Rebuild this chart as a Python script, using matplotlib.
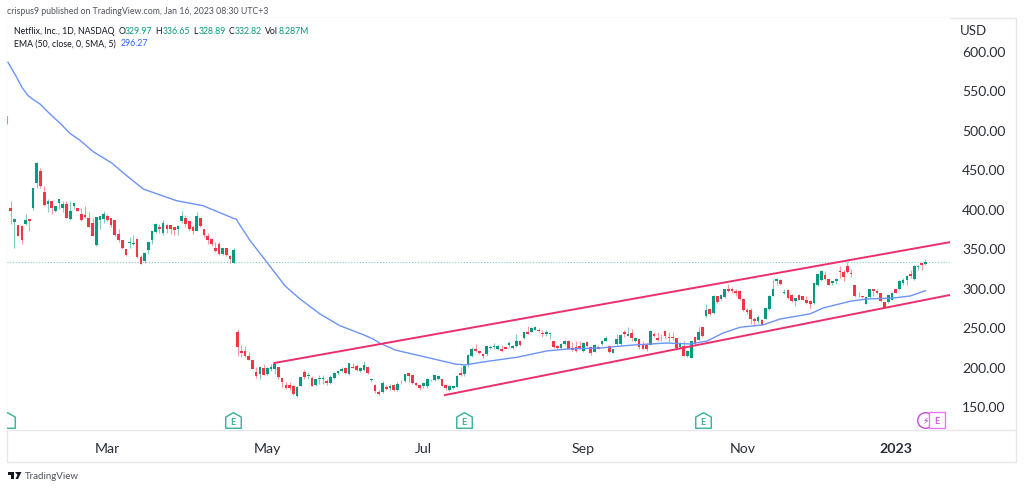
import matplotlib
matplotlib.use("Agg")
import matplotlib.pyplot as plt
from matplotlib.path import Path
from matplotlib.patches import Rectangle, Polygon

plt.rcParams['font.family'] = ['Lato', 'DejaVu Sans']

opens = [518,401,383,379,378,381,387,401,433,448,421,406,410,397,408,401,406,387,403,401,394,392,388,382,354,386,387,391,388,386,368,361,349,357,355,362,339,334,348,360,371,377,370,380,380,377,374,384,389,384,377,372,389,374,365,362,350,356,343,351,340,332,
 244,220,220,213,208,193,191,198,191,197,197,200,186,177,177,176,163,176,193,188,186,177,185,185,182,179,186,192,195,198,191,199,201,194,196,200,183,177,168,168,174,173,177,170,180,182,192,189,179,177,175,175,184,183,184,184,177,170,173,174,192,191,203,214,
 223,220,216,216,224,225,222,222,225,227,224,226,232,236,244,244,247,247,243,241,241.5,232,226,224,229,233,224,225,226,220,231,225,219,225,229,233,226,217,229,229,244,239,243,233,235,227,228,228,241,236,237,245,238,238,236,225,226,213,211,237,234,250,
 264,273,268,289,286,288,298,298,296,296,286,272,272,260,258,259,261,273,289,308,310,294,297,291,283,291,289,284,283,281,303,310,316,311,306,309,321,320,327,319,303,289,289,280,288,298,296,293,282,282,285,298,298,306,310,318,311,326,332,329.97]
highs = [518,410,388,380,379,394,387,427,459,452,429,413,411,404,413,410,410,410,409,401,401,403,396,389,390,391,397,394,389,386,374,361,349,364,367,362,341,345,358,372,382,381,386,381,380,377,380,397,392,384,380,396,389,375,369,362,358,358,351,351,342,351,
 248,227,226,218,208,199,200,203,199,203,206,200,186,180,181,177,175,187,196,193,188,184,189,189,184,189,193,195,199,199,205,205,203,199,207,200,186,178,170,182,177,178,178,180,183,191,192,190,180,178,180,186,185,190,190,184,178,177,176,189,199,202,216,225,
 229,221,217,227,228,230,228,227,225,232,228,242,233,244,251,250,251,249,246,247,244,233,228,230,234,234,231,232,232,231,232,225,229,227,234,239,227,223,242,242,246,250,248,237,236,233,230,246,244,244,242,245,244,244,236,231,232,221,233,238,250,250,
 280,275,291,290,292,299,305,301,299,297,287,275,275,263,266,260,275,291,311,312,311,299,298,292,287,292,290,290,284,306,318,322,321,312,309,313,328,322,333,324,304,295,290,289,299,299,298,294,282,292,295,298,310,312,316,322,329,329,332,336.65]
lows = [507,381,351,365,356,379,372,399,426,427,404,396,394,396,400,396,388,386,400,397,385,389,377,365,353,375,382,385,377,365,358,349,340,350,354,338,330,332,343,355,369,369,367,370,368,367,367,382,377,372,368,372,377,364,355,353,345,342,342,340,332,332,
 213,212,212,208,197,186,185,189,189,195,191,185,174,172,170,164,162,176,185,185,175,175,178,178,177,178,185,191,193,191,189,198,195,193,195,191,180,167,164,167,171,171,169,169,178,181,181,178,175,170,173,173,182,182,183,175,171,169,172,174,188,188,200,212,
 218,216,211,214,222,222,221,219,222,225,222,225,226,235,241,244,246,244,237,239,235,224,222,223,228,222,220,218,222,218,225,215,218,222,228,232,217,217,228,227,237,239,233,231,222,222,220,227,237,233,233,235,231,234,222,222,213,212,211,228,234,237,
 263,265,267,281,285,287,295,294,290,285,271,267,254,252,256,253,260,272,289,303,304,292,286,282,277,284,284,279,275,280,302,309,310,303,303,305,313,309,319,314,288,288,287,280,287,290,292,282,274,281,284,293,297,304,304,313,310,322,322,328.89]
closes = [507,397,387,366,360,386,384,427,458,429,405,410,401,404,412,406,389,397,407,397,386,390,377,366,390,391,394,386,379,367,361,350,341,358,357,339,330,344,358,372,381,374,382,374,374,373,378,391,381,374,372,391,378,367,361,355,347,343,350,341,336,348,
 225,217,214,209,197,188,199,190,198,199,203,187,180,173,173,165,174,187,187,190,176,184,186,186,179,187,192,194,197,192,205,198,196,198,202,192,184,169,165,179,172,175,170,178,181,191,188,179,177,173,179,185,184,190,188,176,173,175,175,188,190,201,215,223,
 220,217,213,226,225,226,226,220,223,230,226,233,227,244,241,249,250,245,242,244,242,225,224,229,233,223,221,220,223,230,226,217,228,223,233,236,218,223,235,240,242,242,236,236,225,223,223,245,239,234,238,239,236,236,224,230,213,220,232,229,244,239,
 272,267,290,282,291,298,296,296,293,286,272,269,260,258,263,253,274,290,299,311,305,295,287,283,287,285,285,281,280,306,317,321,311,304,309,311,320,314,320,318,289,290,288,288,298,296,294,283,275,291,294,294,309,310,315,315,328,328,329,332.82]

sma_pos = [0.27,2.6,4,5.7,7.1,8.9,11.6,14.3,16.9,19.6,23.2,28.2,32.2,36.7,45.6,52.7,60.9,61.6,65.4,69.9,74.8,78.8,84.2,89.5,95.8,98.5,100.3,104.5,112.5,120.5,123.2,128,137.2,145.2,150.7,159.5,168.4,177.5,183.7,188.3,192.6,197.2,203.3,207.9,216,219.5,226.8,231.4,238.3,242.9,247]
sma_val = [585.7,566.7,554,543.4,538.3,532.8,520,508.4,495.7,487,472.4,458,442,425,410.3,404,388,387.1,359.6,332.3,302.3,285.8,266.8,252,240.6,235,229.7,221,212.3,203.4,202.2,206,212,220,222.4,223.7,227.5,230,228.8,232.6,242.7,250,253,260.4,267,274.4,283,285.8,287,289.6,296.27]

upper_pos = [71.9, 253.8]
upper_val = [204.7, 358]
lower_pos = [117.8, 253.6]
lower_val = [164.1, 290.9]
last_close = 332.82

price_ticks = [150,200,250,300,350,400,450,500,550,600]
month_pos = [27,70,112,155,198,239]
month_labels = ['Mar','May','Jul','Sep','Nov','2023']
earn_pos = [0.1,60.8,122.9,187.2]
div_pos = 246.9
next_earn_pos = 250

W,H = 1024,489
GREEN,RED = '#089981','#F23645'
TXT = '#131722'
fig = plt.figure(figsize=(W/100,H/100),dpi=100,facecolor='white')
ax = fig.add_axes([7/W,(H-431)/H,943/W,412/H])
ax.set_xlim(0.005,253.6)
ax.set_ylim(119.8,641.8)
for s in ax.spines.values(): s.set_visible(False)

n = list(range(len(opens)))
colors = [GREEN if c>=o else RED for o,c in zip(opens,closes)]
ax.vlines(n,lows,highs,colors=colors,lw=0.8,alpha=0.5,zorder=2)
bars = ax.bar(n,[max(abs(c-o),0.8) for o,c in zip(opens,closes)],bottom=[min(o,c) for o,c in zip(opens,closes)],
       width=0.72,color=colors,lw=0,zorder=3)
bars[0].set_alpha(0.3)
ax.axhline(last_close,color='#5cc4b4',lw=0.8,ls=(0,(1,1.6)),alpha=0.8,zorder=1)
ax.plot(sma_pos,sma_val,color='#6C93F7',lw=1,zorder=4)
ax.plot(upper_pos,upper_val,color='#EC2F6B',lw=1.4,zorder=5)
ax.plot(lower_pos,lower_val,color='#EC2F6B',lw=1.4,zorder=5)

ax.yaxis.tick_right()
ax.set_yticks(price_ticks)
ax.set_yticklabels([f'{v:.2f}' for v in price_ticks],fontsize=10,color='#2a2e39')
ax.tick_params(axis='y',length=0,pad=8.6)
ax.set_xticks(month_pos)
ax.set_xticklabels(month_labels,fontsize=10.2,color='#2a2e39')
ax.get_xticklabels()[-1].set_fontweight('bold')
ax.tick_params(axis='x',length=0,pad=8.5)

# earnings markers
house = Path([(-1,-1),(1,-1),(1,0.45),(0,1),(-1,0.45),(-1,-1)],closed=True)
ey = 132
ax.scatter(earn_pos,[ey]*len(earn_pos),marker=house,s=125,facecolor='white',edgecolor='#33b09a',lw=1,zorder=6)
for x in earn_pos[1:]:
    ax.text(x,ey-1,'E',ha='center',va='center',fontsize=6.5,fontweight='bold',color='#33b09a',zorder=7)
ax.scatter([next_earn_pos],[ey],marker='s',s=125,facecolor='white',edgecolor='#E879F0',lw=1,zorder=6)
ax.text(next_earn_pos,ey-0.5,'E',ha='center',va='center',fontsize=6.5,fontweight='bold',color='#D855E6',zorder=7)
ax.scatter([div_pos],[ey],marker='o',s=125,facecolor='white',edgecolor='#C44BD6',lw=1,zorder=5.5)
ax.text(div_pos,ey-0.5,'\u26A1',ha='center',va='center',fontsize=6.5,color='#A83BC0',zorder=5.6,family=['DejaVu Sans'])

# overlay in pixels
ov = fig.add_axes([0,0,1,1],zorder=-1)
ov.set_xlim(0,W); ov.set_ylim(H,0); ov.axis('off')
ov.add_patch(Rectangle((7,19),1009,444,fill=False,ec='#E6E8EE',lw=1))
ov.plot([7,1016],[431,431],color='#E6E8EE',lw=1)

def t(x,y,s,c=TXT,fs=6.3,**k):
    fig.text(x/W,1-y/H,s,color=c,fontsize=fs,va='center',**k)
t(7,11,'crispus9 published on TradingView.com, Jan 16, 2023 08:30 UTC+3','#50535e',6.3)
t(14,31,'Netflix, Inc., 1D, NASDAQ')
for x,s,c in [(118.5,'O',TXT),(125,'329.97',GREEN),(155.5,'H',TXT),(162.5,'336.65',GREEN),(193,'L',TXT),(198.5,'328.89',GREEN),
              (228.5,'C',TXT),(235,'332.82',GREEN),(265,'Vol',TXT),(278.5,'8.287M',GREEN)]:
    t(x,31,s,c)
t(14,44,'EMA (50, close, 0, SMA, 5)')
t(121,44,'296.27','#2962FF')
t(960,31,'USD','#2a2e39',9.5)

# TradingView logo
ov2 = fig.add_axes([0,0,1,1],zorder=5); ov2.set_xlim(0,W); ov2.set_ylim(H,0); ov2.axis('off'); ov2.patch.set_alpha(0)
ov2.add_patch(Polygon([(8,473),(14,473),(14,480),(11,480),(11,476),(8,476)],fc='#131722',lw=0))
ov2.add_patch(Polygon([(15,473),(21.5,473),(18,480),(15.5,480),(17.5,476)],fc='#131722',lw=0))
t(24.5,476.5,'TradingView','#50535e',7.0)
assert len(opens)==len(highs)==len(lows)==len(closes)
fig.savefig('out.png',dpi=100)
